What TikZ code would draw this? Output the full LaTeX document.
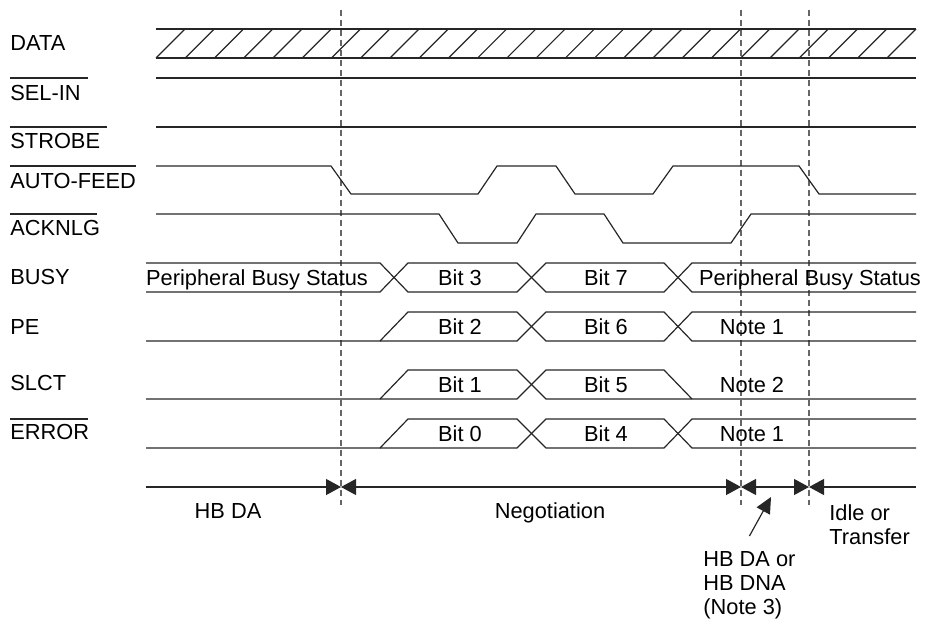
\documentclass[tikz,border=0pt]{standalone}
\usepackage{fontspec}
\setsansfont{Liberation Sans}
\usepackage{tikz}
\usetikzlibrary{arrows.meta, positioning}

\begin{document}
\begin{tikzpicture}[x=0.5pt, y=-0.5pt,
    font=\sffamily\fontsize{10.9}{12}\selectfont,
    wave/.style={line width=0.6pt, draw=black!85},
    guide/.style={line width=0.6pt, draw=black!60, dash pattern=on 3pt off 2pt},
    tag/.style={inner sep=0pt, text height=7.7pt, text depth=0pt},
    note/.style={inner sep=0pt, align=left},
    span/.style={line width=0.6pt, draw=black!85},
    pointer/.style={line width=0.6pt, draw=black!85,
                    -{Triangle[length=8pt, width=7.5pt]}}]
    \useasboundingbox (0,0) rectangle (925,620);
    \tikzset{>={Triangle[length=7.5pt, width=8pt]}}

    % Add the signal names
        \node[tag, anchor=west] (data)  at (10,43)  {DATA};
        \node[tag, anchor=west] (selin) at (10,93)  {SEL-IN};
        \node[tag, anchor=west] (strb)  at (10,141) {STROBE};
        \node[tag, anchor=west] (afd)   at (10,181) {AUTO-FEED};
        \node[tag, anchor=west] (ack)   at (10,228) {ACKNLG};
        \node[tag, anchor=west] (busy)  at (10,277) {BUSY};
        \node[tag, anchor=west] (pe)    at (10,327) {PE};
        \node[tag, anchor=west] (slct)  at (10,383) {SLCT};
        \node[tag, anchor=west] (err)   at (10,432) {ERROR};
        % active low bars
        \draw[wave] (10,78) -- (88,78)
                    (10,127) -- (107,127)
                    (10,166) -- (136,166)
                    (10,214) -- (97,214)
                    (10,419) -- (88,419);

    % Add the phase borders
        \foreach \x in {341,741,809}
            \draw[guide] (\x,10) -- (\x,505);

    % DATA
        \draw[wave] (156,29) -- (916,29) (156,58) -- (916,58);
        \foreach \k in {0,...,25}
            \draw[wave] ({156+29.24*\k},58) -- ++(29,-29);
    % SEL-IN, STROBE
        \draw[wave] (156,78) -- (916,78);
        \draw[wave] (156,127) -- (916,127);
    % AUTO-FEED
        \draw[wave] (156,166) -- (331,166) -- (351,194) -- (478,194)
            -- (497,166) -- (556,166) -- (575,194) -- (653,194)
            -- (673,166) -- (799,166) -- (819,194) -- (916,194);
    % ACKNLG
        \draw[wave] (156,214) -- (439,214) -- (458,243) -- (517,243)
            -- (536,214) -- (604,214) -- (623,243) -- (731,243)
            -- (751,214) -- (916,214);
    % BUSY
        \draw[wave] (146,263) -- (380,263) -- (408,292) -- (517,292)
            -- (546,263) -- (664,263) -- (692,292) -- (916,292);
        \draw[wave] (146,292) -- (380,292) -- (408,263) -- (517,263)
            -- (546,292) -- (664,292) -- (692,263) -- (916,263);
    % PE
        \draw[wave] (146,341) -- (380,341) -- (408,312) -- (517,312)
            -- (546,341) -- (664,341) -- (692,312) -- (916,312);
        \draw[wave] (380,341) -- (517,341) -- (546,312) -- (664,312)
            -- (692,341) -- (916,341);
    % SLCT
        \draw[wave] (146,399) -- (380,399) -- (408,370) -- (517,370)
            -- (546,399) -- (916,399);
        \draw[wave] (380,399) -- (517,399) -- (546,370) -- (664,370)
            -- (692,399);
    % ERROR
        \draw[wave] (146,448) -- (380,448) -- (408,419) -- (517,419)
            -- (546,448) -- (664,448) -- (692,419) -- (916,419);
        \draw[wave] (380,448) -- (517,448) -- (546,419) -- (664,419)
            -- (692,448) -- (916,448);

    % Add the bus values
        \node[tag] (bsy1) at (257,277.5) {Peripheral Busy Status};
        \node[tag] (b3)   at (460,277.5) {Bit 3};
        \node[tag] (b7)   at (606,277.5) {Bit 7};
        \node[tag] (bsy2) at (810,277.5) {Peripheral Busy Status};
        \node[tag] (b2)   at (460,326.5) {Bit 2};
        \node[tag] (b6)   at (606,326.5) {Bit 6};
        \node[tag] (n1a)  at (752,326.5) {Note 1};
        \node[tag] (b1)   at (460,384.5) {Bit 1};
        \node[tag] (b5)   at (606,384.5) {Bit 5};
        \node[tag] (n2)   at (752,384.5) {Note 2};
        \node[tag] (b0)   at (460,433.5) {Bit 0};
        \node[tag] (b4)   at (606,433.5) {Bit 4};
        \node[tag] (n1b)  at (752,433.5) {Note 1};

    % Add the phases
        \coordinate (t0) at (146,487);
        \coordinate (t1) at (341,487);
        \coordinate (t2) at (741,487);
        \coordinate (t3) at (809,487);
        \coordinate (t4) at (916,487);
        \draw[span, ->]  (t0) -- (t1);
        \draw[span, <->] (t1) -- (t2);
        \draw[span, <->] (t2) -- (t3);
        \draw[span, <-]  (t3) -- (t4);

        \node[tag] (hbda) at (228,511) {HB DA};
        \node[tag] (nego) at (550,511) {Negotiation};
        \node[note, anchor=north west] (idle)  at (829,504) {Idle or\\Transfer};
        \node[note, anchor=north west] (note3) at (703,551) {HB DA or\\HB DNA\\(Note 3)};
        \coordinate (hbtip) at (771,497);
        \draw[pointer] ([yshift=7.5pt]note3.north) -- (hbtip);
\end{tikzpicture}
\end{document}
